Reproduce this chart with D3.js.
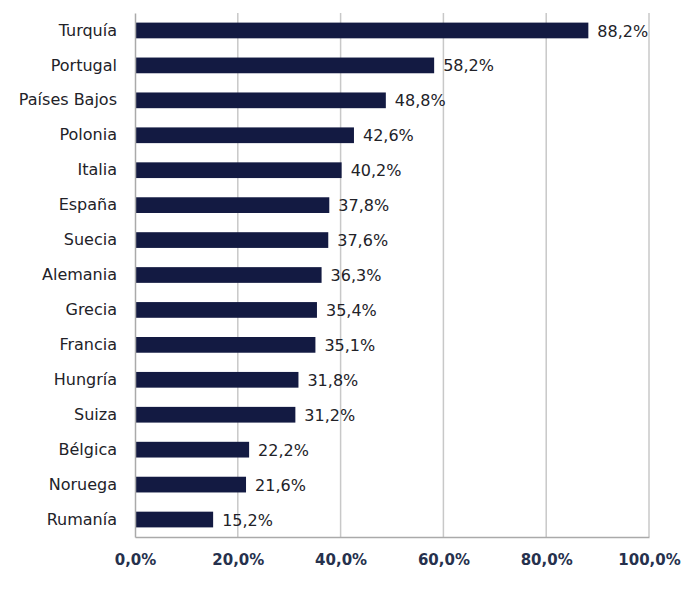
<!DOCTYPE html>
<html>
<head>
<meta charset="utf-8">
<script src="https://cdn.jsdelivr.net/npm/d3@7"></script>
<style>
	body { margin: 0; background: #fff; }
	text { font-family: "DejaVu Sans", Verdana, sans-serif; }
</style>
</head>
<body>
<div id="chart-area"></div>
<script>
var countries = ["Turquía", "Portugal", "Países Bajos", "Polonia", "Italia", "España", "Suecia",
	"Alemania", "Grecia", "Francia", "Hungría", "Suiza", "Bélgica", "Noruega", "Rumanía"];
var values = [88.2, 58.2, 48.8, 42.6, 40.2, 37.8, 37.6, 36.3, 35.4, 35.1, 31.8, 31.2, 22.2, 21.6, 15.2];
var ticks = [0, 20, 40, 60, 80, 100];

var width = 700, height = 591;
var margin = {left: 135, right: 51, top: 13, bottom: 54};
var innerW = width - margin.left - margin.right;
var innerH = height - margin.top - margin.bottom;

var fmt = function(d){ return d.toFixed(1).replace(".", ",") + "%"; };

var svg = d3.select("#chart-area")
	.append("svg")
		.attr("width", width)
		.attr("height", height)
	.append("g")
		.attr("transform", "translate(" + margin.left + ", " + margin.top + ")");

//scales
var x = d3.scaleLinear()
	.domain([0, 100])
	.range([0, innerW]);

var y = d3.scaleBand()
	.domain(countries)
	.range([0, innerH])
	.paddingInner(0.55)
	.paddingOuter(0.275);

//gridlines
svg.selectAll(".grid")
	.data(ticks.slice(1))
	.enter().append("line")
		.attr("class", "grid")
		.attr("x1", function(d){ return x(d); })
		.attr("x2", function(d){ return x(d); })
		.attr("y1", 0)
		.attr("y2", innerH)
		.attr("stroke", "#c8c8c8")
		.attr("stroke-width", 1.5);

//bars
svg.selectAll("rect")
	.data(values)
	.enter().append("rect")
		.attr("x", 0)
		.attr("y", function(d, i){ return y(countries[i]); })
		.attr("width", function(d){ return x(d); })
		.attr("height", y.bandwidth())
		.attr("fill", "#131a42");

//value labels
svg.selectAll(".val")
	.data(values)
	.enter().append("text")
		.attr("class", "val")
		.attr("x", function(d){ return x(d) + 9; })
		.attr("y", function(d, i){ return y(countries[i]) + y.bandwidth() / 2; })
		.attr("dy", "0.38em")
		.attr("font-size", 16)
		.attr("fill", "#222228")
		.text(fmt);

//x axis
var xAxisCall = d3.axisBottom(x)
	.tickValues(ticks)
	.tickSize(0)
	.tickPadding(17)
	.tickFormat(fmt);

var xAxis = svg.append("g")
	.attr("transform", "translate(0, " + innerH + ")")
	.call(xAxisCall);
xAxis.select(".domain").attr("stroke", "#aaaaaa").attr("stroke-width", 1.5);
xAxis.selectAll("text")
	.attr("font-size", 15)
	.attr("font-weight", "bold")
	.attr("fill", "#26314d");

//y axis
var yAxisCall = d3.axisLeft(y)
	.tickSize(0)
	.tickPadding(18);

var yAxis = svg.append("g").call(yAxisCall);
yAxis.select(".domain").attr("stroke", "#aaaaaa").attr("stroke-width", 1.5);
yAxis.selectAll("text")
	.attr("font-size", 16)
	.attr("fill", "#222228");
</script>
</body>
</html>
